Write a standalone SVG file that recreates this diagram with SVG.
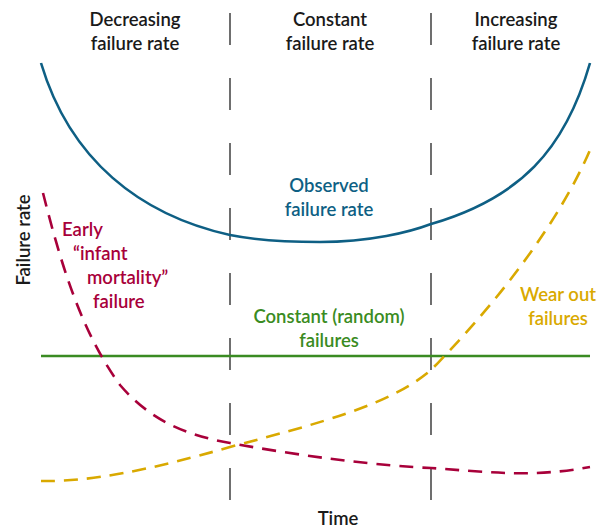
<svg xmlns="http://www.w3.org/2000/svg" width="606" height="529" viewBox="0 0 606 529">
<style>
text{font-family:Lato,"Liberation Sans",Arial,sans-serif;font-size:18.5px;font-weight:600;text-anchor:middle}
.k{fill:#1a1a1a}
.div{stroke:#222;stroke-width:1.3;stroke-dasharray:32 33;fill:none}
.c{fill:none;stroke-width:2.6}
</style>
<rect width="606" height="529" fill="#fff"/>
<g id="connectors">
<line class="div" x1="230" y1="13" x2="230" y2="500"/>
<line class="div" x1="431" y1="13" x2="431" y2="500"/>
<path id="observed" class="c" stroke="#0e5f84" d="M41,63 C70,160 140,215 230,235 C260,241 290,242 320,242 C370,242 410,232 431,224 C520,198 565,150 590,63"/>
<line id="constant" x1="41" y1="356" x2="590" y2="356" stroke="#3a8b22" stroke-width="2.4"/>
<path id="early" class="c" stroke="#a8003a" stroke-dasharray="14 9" d="M43,193 C60,260 80,330 120,385 C150,420 185,435 230,443 C300,456 380,466 431,468 C490,472 530,478 590,467"/>
<path id="wear" class="c" stroke="#d9a900" stroke-dasharray="14 9" d="M41,481 C90,482 150,470 230,447 C320,423 390,405 431,370 C500,300 560,220 590,150"/>
</g>
<g id="labels">
<text class="k" x="135" y="26">Decreasing</text>
<text class="k" x="135" y="50">failure rate</text>
<text class="k" x="330" y="26">Constant</text>
<text class="k" x="330" y="50">failure rate</text>
<text class="k" x="516" y="26">Increasing</text>
<text class="k" x="516" y="50">failure rate</text>
<text x="329" y="192" fill="#0e5f84">Observed</text>
<text x="329" y="216" fill="#0e5f84">failure rate</text>
<text x="329" y="323" fill="#3a8b22">Constant (random)</text>
<text x="329" y="347" fill="#3a8b22">failures</text>
<g fill="#a8003a">
<text x="62" y="236" style="text-anchor:start">Early</text>
<text x="73" y="260" style="text-anchor:start">“infant</text>
<text x="87" y="284" style="text-anchor:start">mortality”</text>
<text x="93" y="308" style="text-anchor:start">failure</text>
</g>
<text x="558" y="301" fill="#d9a900">Wear out</text>
<text x="558" y="325" fill="#d9a900">failures</text>
<text class="k" x="338" y="525">Time</text>
<text class="k" x="0" y="0" transform="translate(30,240) rotate(-90)">Failure rate</text>
</g>
</svg>
